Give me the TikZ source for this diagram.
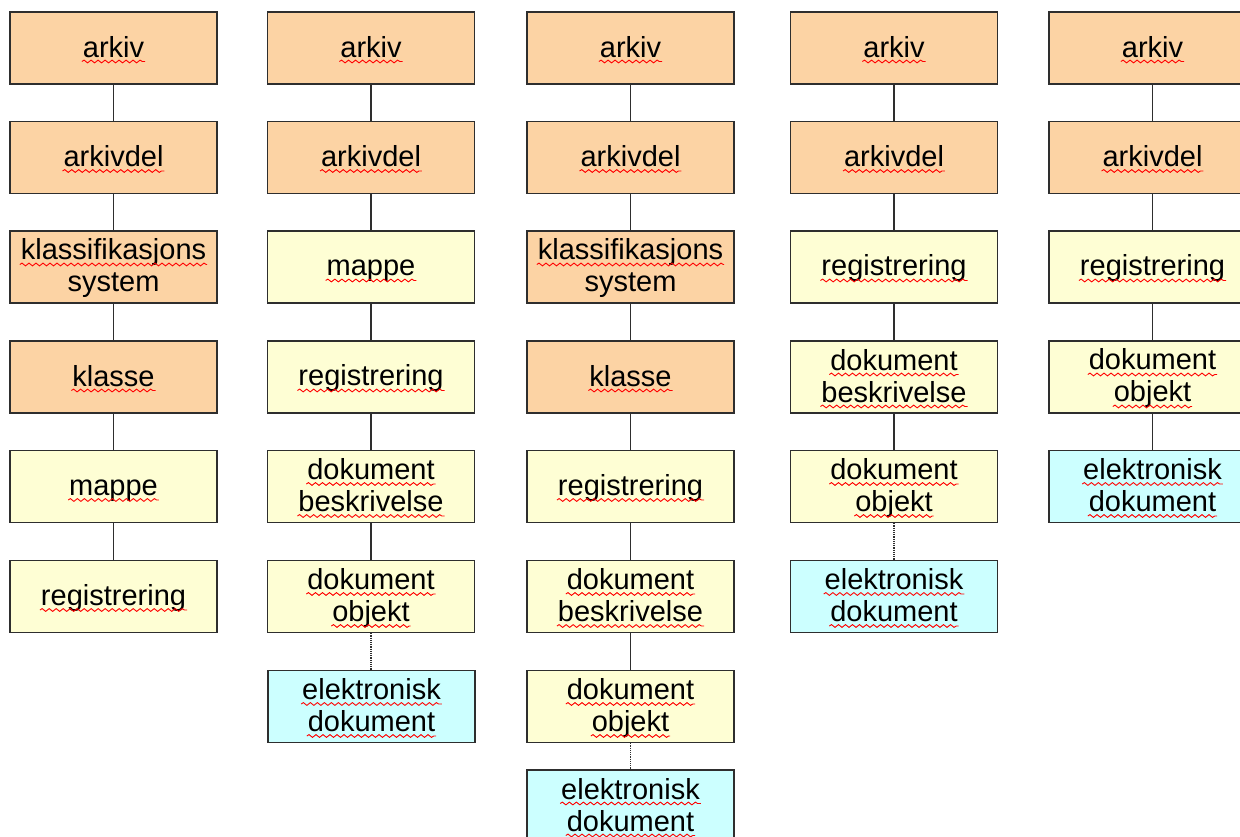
\documentclass[tikz,border=0pt]{standalone}
\usepackage{fontspec}
\setmainfont{Liberation Sans}
\usetikzlibrary{decorations.pathmorphing}
\definecolor{peach}{HTML}{FCD3A4}
\definecolor{cream}{HTML}{FEFED4}
\definecolor{icecyan}{HTML}{CCFFFF}
\definecolor{edge}{HTML}{2E2E2E}
\newcommand\lnstrut{\rule[-6pt]{0pt}{30pt}}
\newcommand\sq[1]{\lnstrut\tikz[baseline=(w.base)]{\node[inner sep=0pt, outer sep=0pt, draw=none, fill=none, minimum size=0pt] (w) {#1};
  \draw[overlay, red, line width=0.9pt, decorate, decoration={snake, amplitude=1.4pt, segment length=7pt}] ([yshift=-4.5pt,xshift=-1pt]w.base west) -- ([yshift=-4.5pt,xshift=1pt]w.base east);}}
\tikzset{
  box/.style={draw=edge, line width=1.4pt, minimum width=207pt, minimum height=72pt, inner sep=0pt, align=center,
    font=\fontsize{29}{32}\selectfont},
  orangebox/.style={box, fill=peach},
  yellowbox/.style={box, fill=cream},
  cyanbox/.style={box, fill=icecyan},
  link/.style={draw=edge, line width=1.4pt},
  dotlink/.style={draw=edge, line width=1.2pt, densely dotted}
}
\begin{document}
\begin{tikzpicture}[x=1pt,y=-1pt]
\useasboundingbox (0,0) rectangle (1240,836);
\clip (0,0) rectangle (1240,836);
% column 1
\node[orangebox] (a1) at (113.5,48) {\sq{arkiv}};
\node[orangebox] (b1) at (113.5,157.5) {\sq{arkivdel}};
\node[orangebox] (c1) at (113.5,267) {\sq{klassifikasjons}\\\lnstrut system};
\node[orangebox] (d1) at (113.5,377) {\sq{klasse}};
\node[yellowbox] (e1) at (113.5,486.5) {\sq{mappe}};
\node[yellowbox] (f1) at (113.5,596.5) {\sq{registrering}};
\draw[link] (a1) -- (b1);
\draw[link] (b1) -- (c1);
\draw[link] (c1) -- (d1);
\draw[link] (d1) -- (e1);
\draw[link] (e1) -- (f1);
% column 2
\node[orangebox] (a2) at (371,48) {\sq{arkiv}};
\node[orangebox] (b2) at (371,157.5) {\sq{arkivdel}};
\node[yellowbox] (c2) at (371,267) {\sq{mappe}};
\node[yellowbox] (d2) at (371,377) {\sq{registrering}};
\node[yellowbox] (e2) at (371,486.5) {\sq{dokument}\\\sq{beskrivelse}};
\node[yellowbox] (f2) at (371,596.5) {\sq{dokument}\\\sq{objekt}};
\node[cyanbox] (g2) at (371.5,706.5) {\sq{elektronisk}\\\sq{dokument}};
\draw[link] (a2) -- (b2);
\draw[link] (b2) -- (c2);
\draw[link] (c2) -- (d2);
\draw[link] (d2) -- (e2);
\draw[link] (e2) -- (f2);
\draw[dotlink] (f2) -- (f2 |- g2.north);
% column 3
\node[orangebox] (a3) at (630.5,48) {\sq{arkiv}};
\node[orangebox] (b3) at (630.5,157.5) {\sq{arkivdel}};
\node[orangebox] (c3) at (630.5,267) {\sq{klassifikasjons}\\\lnstrut system};
\node[orangebox] (d3) at (630.5,377) {\sq{klasse}};
\node[yellowbox] (e3) at (630.5,486.5) {\sq{registrering}};
\node[yellowbox] (f3) at (630.5,596.5) {\sq{dokument}\\\sq{beskrivelse}};
\node[yellowbox] (g3) at (630.5,706.5) {\sq{dokument}\\\sq{objekt}};
\node[cyanbox] (h3) at (630.5,806) {\sq{elektronisk}\\\sq{dokument}};
\draw[link] (a3) -- (b3);
\draw[link] (b3) -- (c3);
\draw[link] (c3) -- (d3);
\draw[link] (d3) -- (e3);
\draw[link] (e3) -- (f3);
\draw[link] (f3) -- (g3);
\draw[dotlink] (g3) -- (h3);
% column 4
\node[orangebox] (a4) at (894,48) {\sq{arkiv}};
\node[orangebox] (b4) at (894,157.5) {\sq{arkivdel}};
\node[yellowbox] (c4) at (894,267) {\sq{registrering}};
\node[yellowbox] (d4) at (894,377) {\sq{dokument}\\\sq{beskrivelse}};
\node[yellowbox] (e4) at (894,486.5) {\sq{dokument}\\\sq{objekt}};
\node[cyanbox] (f4) at (894,596.5) {\sq{elektronisk}\\\sq{dokument}};
\draw[link] (a4) -- (b4);
\draw[link] (b4) -- (c4);
\draw[link] (c4) -- (d4);
\draw[link] (d4) -- (e4);
\draw[dotlink] (e4) -- (f4);
% column 5
\node[orangebox] (a5) at (1152.5,48) {\sq{arkiv}};
\node[orangebox] (b5) at (1152.5,157.5) {\sq{arkivdel}};
\node[yellowbox] (c5) at (1152.5,267) {\sq{registrering}};
\node[yellowbox] (d5) at (1152.5,377) {\sq{dokument}\\\sq{objekt}};
\node[cyanbox] (e5) at (1152.5,486.5) {\sq{elektronisk}\\\sq{dokument}};
\draw[link] (a5) -- (b5);
\draw[link] (b5) -- (c5);
\draw[link] (c5) -- (d5);
\draw[link] (d5) -- (e5);
\end{tikzpicture}
\end{document}
